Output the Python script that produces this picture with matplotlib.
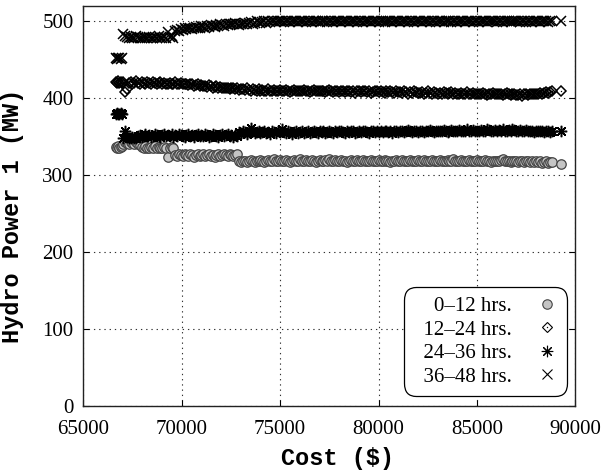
import matplotlib
matplotlib.use('Agg')
import matplotlib.pyplot as plt
from matplotlib.legend_handler import HandlerTuple

cost = [66650, 66700, 66760, 66830, 66900, 66960, 67040, 67130, 67220, 67310,
        67400, 67490, 67590, 67680, 67780, 67870, 67960, 68060, 68150, 68250,
        68340, 68440, 68530, 68630, 68720, 68820, 68910, 69010, 69100, 69200,
        69290, 69390, 69480, 69580, 69670, 69770, 69860, 69960, 70050, 70150,
        70240, 70340, 70430, 70530, 70620, 70720, 70810, 70910, 71000, 71100,
        71190, 71290, 71380, 71480, 71570, 71670, 71760, 71860, 71950, 72050,
        72140, 72240, 72330, 72430, 72520, 72620, 72710, 72810, 72900, 73000,
        73100, 73200, 73300, 73400, 73500, 73600, 73700, 73800, 73900, 74000,
        74100, 74200, 74300, 74400, 74500, 74600, 74700, 74800, 74900, 75000,
        75100, 75200, 75300, 75400, 75500, 75600, 75700, 75800, 75900, 76000,
        76100, 76200, 76300, 76400, 76500, 76600, 76700, 76800, 76900, 77000,
        77100, 77200, 77300, 77400, 77500, 77600, 77700, 77800, 77900, 78000,
        78100, 78200, 78300, 78400, 78500, 78600, 78700, 78800, 78900, 79000,
        79100, 79200, 79300, 79400, 79500, 79600, 79700, 79800, 79900, 80000,
        80100, 80200, 80300, 80400, 80500, 80600, 80700, 80800, 80900, 81000,
        81100, 81200, 81300, 81400, 81500, 81600, 81700, 81800, 81900, 82000,
        82100, 82200, 82300, 82400, 82500, 82600, 82700, 82800, 82900, 83000,
        83100, 83200, 83300, 83400, 83500, 83600, 83700, 83800, 83900, 84000,
        84100, 84200, 84300, 84400, 84500, 84600, 84700, 84800, 84900, 85000,
        85100, 85200, 85300, 85400, 85500, 85600, 85700, 85800, 85900, 86000,
        86100, 86200, 86300, 86400, 86500, 86600, 86700, 86800, 86900, 87000,
        87100, 87200, 87300, 87400, 87500, 87600, 87700, 87800, 87900, 88000,
        88100, 88200, 88300, 88400, 88500, 88600, 88700, 88800, 89280]

hydro_0_12 = [337, 336, 338, 336, 337, 338, 340, 343, 342, 341,
              343, 342, 340, 343, 341, 339, 337, 336, 338, 336,
              335, 337, 336, 338, 335, 337, 336, 335, 337, 336,
              324, 336, 337, 335, 326, 325, 327, 326, 325, 327,
              326, 325, 327, 326, 324, 326, 327, 325, 326, 327,
              325, 326, 327, 325, 326, 324, 326, 327, 325, 326,
              327, 326, 325, 327, 326, 325, 326, 327, 318, 317,
              319, 318, 317, 319, 320, 318, 317, 319, 318, 320,
              319, 317, 318, 320, 319, 318, 321, 319, 318, 320,
              318, 319, 320, 318, 317, 319, 320, 318, 319, 321,
              319, 318, 320, 319, 318, 320, 319, 317, 318, 320,
              319, 318, 320, 319, 321, 318, 319, 320, 318, 319,
              320, 318, 319, 317, 319, 320, 318, 319, 320, 318,
              319, 320, 318, 319, 318, 320, 319, 318, 319, 320,
              318, 319, 320, 318, 319, 317, 319, 318, 320, 319,
              318, 320, 319, 318, 319, 320, 318, 319, 318, 320,
              319, 318, 320, 319, 318, 319, 320, 318, 319, 318,
              320, 319, 318, 319, 320, 318, 319, 321, 319, 318,
              319, 320, 318, 319, 318, 320, 319, 318, 319, 320,
              318, 319, 318, 320, 319, 318, 317, 319, 318, 319,
              318, 320, 321, 319, 318, 319, 317, 318, 319, 318,
              317, 319, 318, 317, 318, 319, 317, 318, 317, 318,
              317, 318, 316, 317, 318, 316, 317, 317, 315]

hydro_12_24 = [421, 420, 422, 420, 421, 420, 421, 408, 412, 420,
               421, 419, 420, 422, 420, 419, 421, 420, 419, 421,
               420, 419, 421, 420, 418, 420, 421, 419, 420, 418,
               419, 420, 418, 419, 421, 419, 418, 420, 419, 418,
               418, 417, 419, 418, 416, 417, 418, 416, 417, 416,
               416, 415, 417, 416, 414, 415, 416, 414, 415, 413,
               414, 413, 414, 412, 413, 414, 412, 413, 411, 412,
               412, 411, 413, 411, 410, 412, 411, 410, 412, 410,
               411, 409, 410, 412, 410, 409, 411, 410, 409, 411,
               410, 409, 411, 410, 408, 410, 411, 409, 410, 409,
               410, 411, 409, 410, 408, 409, 411, 410, 409, 410,
               409, 410, 408, 409, 411, 410, 408, 409, 410, 408,
               409, 410, 408, 409, 410, 408, 409, 407, 409, 410,
               408, 409, 410, 408, 409, 407, 408, 409, 410, 408,
               409, 408, 407, 409, 408, 410, 408, 407, 409, 408,
               408, 407, 409, 408, 406, 408, 407, 409, 408, 407,
               407, 408, 406, 407, 409, 407, 406, 408, 407, 406,
               407, 406, 408, 407, 405, 407, 408, 406, 407, 406,
               406, 407, 405, 406, 408, 406, 405, 407, 406, 405,
               406, 405, 407, 406, 404, 406, 405, 407, 405, 406,
               405, 406, 404, 405, 407, 405, 404, 406, 405, 404,
               404, 405, 403, 405, 406, 404, 405, 406, 405, 406,
               406, 407, 406, 407, 408, 407, 408, 409, 410]

hydro_24_36 = [380, 381, 379, 380, 381, 379, 349, 358, 350, 348,
               349, 350, 348, 349, 351, 352, 350, 351, 353, 351,
               352, 350, 351, 353, 352, 351, 350, 352, 353, 351,
               352, 351, 353, 350, 352, 351, 353, 352, 351, 350,
               352, 353, 351, 352, 350, 352, 353, 351, 352, 351,
               353, 352, 350, 351, 353, 352, 351, 350, 352, 353,
               351, 352, 353, 351, 352, 350, 352, 351, 356, 355,
               357, 356, 354, 356, 361, 357, 355, 356, 357, 355,
               356, 357, 355, 356, 354, 357, 356, 355, 357, 356,
               360, 356, 355, 357, 356, 354, 356, 357, 355, 356,
               357, 355, 356, 357, 355, 356, 358, 356, 355, 357,
               356, 357, 355, 356, 357, 356, 355, 357, 356, 358,
               357, 356, 355, 357, 356, 358, 357, 355, 356, 357,
               356, 358, 357, 356, 355, 357, 358, 356, 357, 356,
               357, 356, 358, 357, 356, 357, 355, 357, 358, 356,
               357, 358, 356, 357, 359, 357, 356, 358, 357, 356,
               358, 357, 356, 358, 357, 359, 357, 356, 358, 357,
               358, 357, 359, 358, 356, 358, 359, 357, 358, 357,
               359, 358, 357, 358, 360, 358, 357, 359, 358, 357,
               358, 359, 357, 358, 360, 359, 358, 357, 359, 358,
               359, 358, 360, 358, 357, 359, 358, 360, 359, 358,
               358, 359, 357, 358, 359, 357, 358, 357, 356, 358,
               357, 358, 357, 356, 358, 357, 356, 357, 357]

hydro_36_48 = [452, 451, 453, 452, 451, 452, 484, 481, 480, 479,
               480, 478, 479, 481, 480, 478, 479, 480, 478, 479,
               480, 479, 478, 480, 479, 481, 478, 479, 480, 478,
               486, 480, 481, 479, 488, 489, 488, 490, 489, 491,
               490, 492, 491, 490, 492, 493, 491, 492, 494, 493,
               492, 494, 493, 495, 494, 493, 495, 494, 496, 495,
               494, 496, 495, 497, 496, 497, 498, 496, 495, 497,
               496, 498, 497, 498, 499, 497, 498, 500, 499, 498,
               499, 500, 498, 500, 499, 501, 500, 499, 500, 501,
               500, 499, 501, 500, 499, 500, 501, 500, 499, 500,
               501, 500, 499, 500, 501, 499, 500, 501, 500, 499,
               500, 501, 500, 499, 500, 501, 499, 500, 501, 500,
               499, 500, 501, 500, 499, 500, 501, 500, 499, 501,
               500, 499, 500, 501, 500, 499, 501, 500, 500, 499,
               501, 500, 499, 500, 501, 500, 499, 501, 500, 500,
               499, 501, 500, 500, 499, 501, 500, 499, 500, 501,
               500, 499, 501, 500, 500, 499, 501, 500, 499, 500,
               501, 500, 499, 501, 500, 500, 499, 501, 500, 499,
               500, 501, 500, 499, 500, 501, 500, 499, 501, 500,
               499, 500, 501, 500, 499, 500, 501, 500, 500, 499,
               501, 500, 499, 500, 501, 500, 499, 500, 501, 500,
               500, 499, 501, 500, 499, 500, 501, 499, 500, 501,
               500, 499, 500, 501, 500, 499, 500, 500, 500]

series_labels = ['\u2002\u20070\u201312 hrs.', '\u200212\u201324 hrs.',
                 '\u200224\u201336 hrs.', '\u200236\u201348 hrs.']
x_ticks = [65000, 70000, 75000, 80000, 85000, 90000]
y_ticks = [0, 100, 200, 300, 400, 500]

serif = ['Liberation Serif', 'DejaVu Serif']
mono = ['Liberation Mono', 'DejaVu Sans Mono']

fig = plt.figure(figsize=(6.05, 4.7), dpi=100)
ax = fig.add_axes([0.1377, 0.1362, 0.8135, 0.851])

mew = 1.1
h1, = ax.plot(cost, hydro_0_12, linestyle='none', marker='o', ms=6.8,
              mfc='#c4c4c4', mec='#444444', mew=0.9)
h2, = ax.plot(cost, hydro_12_24, linestyle='none', marker='D', ms=5.0,
              mfc='none', mec='black', mew=mew)
h2d, = ax.plot(cost, hydro_12_24, linestyle='none', marker='o', ms=1.0,
               mfc='black', mec='black', mew=0)
h3, = ax.plot(cost, hydro_24_36, linestyle='none', marker=(8, 2, 0), ms=8.2,
              mec='black', mew=mew)
h4, = ax.plot(cost, hydro_36_48, linestyle='none', marker='x', ms=7.2,
              mec='black', mew=mew)

ax.set_xlim(65000, 90000)
ax.set_ylim(0, 520)
ax.set_xticks(x_ticks)
ax.set_yticks(y_ticks)
ax.set_xticklabels([str(v) for v in x_ticks], family=serif, fontsize=15)
ax.set_yticklabels([str(v) for v in y_ticks], family=serif, fontsize=15)
ax.tick_params(direction='in', length=4, width=0.8, top=True, right=True, color='black')
ax.tick_params(axis='x', pad=10)
ax.tick_params(axis='y', pad=7)

ax.grid(True, color='#333333', linestyle=(0, (1.2, 3.5)), linewidth=0.8)
ax.set_axisbelow(True)
for s in ax.spines.values():
    s.set_linewidth(1.0)
    s.set_color('#222222')

ax.set_xlabel('Cost ($)', family=mono, fontweight='bold', fontsize=17)
ax.set_ylabel('Hydro Power 1 (MW)', family=mono, fontweight='bold', fontsize=17)
ax.xaxis.set_label_coords(0.516, -0.1025)
ax.yaxis.set_label_coords(-0.1205, 0.475)

leg = ax.legend([h1, (h2, h2d), h3, h4], series_labels,
                handler_map={tuple: HandlerTuple(ndivide=1, pad=0)},
                loc='lower right', bbox_to_anchor=(0.983, 0.025),
                borderaxespad=0, markerfirst=False, fancybox=True,
                frameon=True, framealpha=1, edgecolor='black',
                prop={'family': serif, 'size': 15},
                handlelength=1.0, handletextpad=1.2, borderpad=0.45,
                labelspacing=0.19)
leg.get_frame().set_linewidth(0.9)
leg.get_frame().set_boxstyle('round', pad=0, rounding_size=0.6)
for ln in leg.get_lines():
    ln.set_markeredgewidth(0.8)

fig.savefig('out.png', dpi=100)
